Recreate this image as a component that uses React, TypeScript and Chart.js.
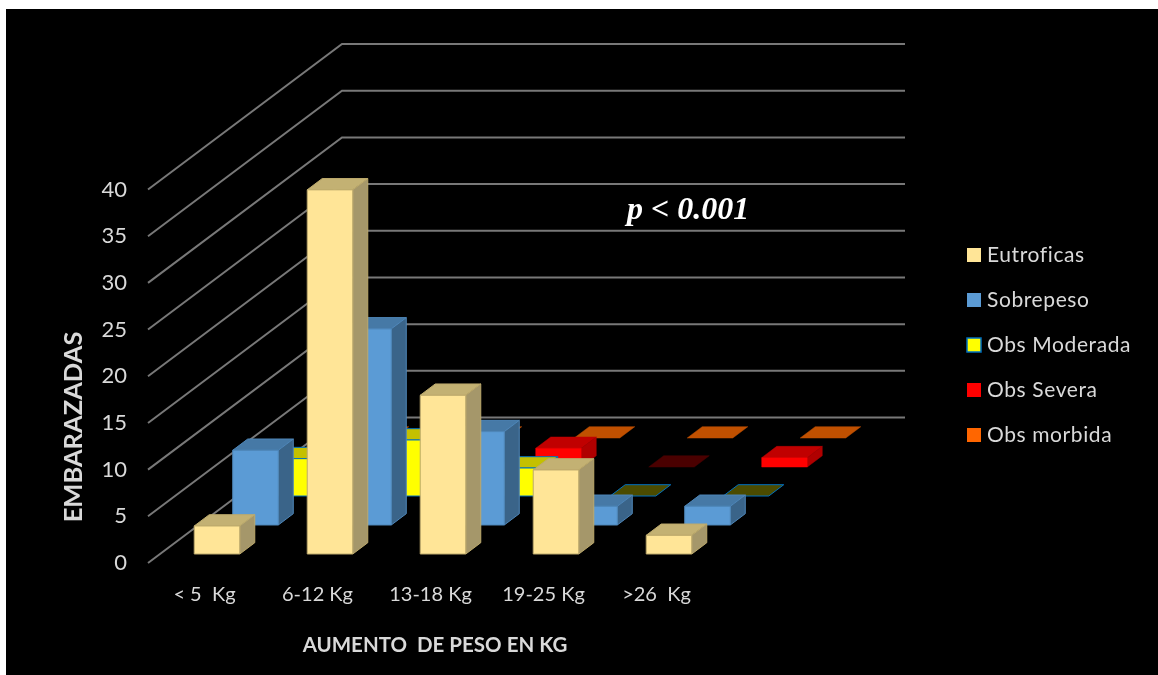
import { useEffect, useRef } from "react";
import { Chart, BarController, registerables } from "chart.js";

Chart.register(...registerables);

const categories = ["< 5  Kg", "6-12 Kg", "13-18 Kg", "19-25 Kg", ">26  Kg"];
const yMax = 40;
const yStep = 5;

const seriesNames = ["Eutroficas", "Sobrepeso", "Obs Moderada", "Obs Severa", "Obs morbida"];
const eutroficas = [3, 39, 17, 9, 2];
const sobrepeso = [8, 21, 10, 2, 2];
const obsModerada = [4, 6, 3, 0, 0];
const obsSevera = [0, 0, 2, 0, 1];
const obsMorbida = [0, 0, 0, 0, 0];

const frontColors = ["#FFE597", "#5B9BD5", "#FFFF00", "#FF0000", "#FF6600"];
const topColors = ["#C3B173", "#4679A6", "#C4C000", "#C00000", "#C05000"];
const sideColors = ["#A5976A", "#3A6489", "#A8A400", "#B00000", "#A04000"];
const flatColors = ["#C3B173", "#4679A6", "#4B4B00", "#4A0000", "#C05000"];
const edgeColors = ["#BDAA6C", "#4E86B8", "#0070C0", null, null];

// Projection of the depth axis onto the screen, in pixels.
const WALL_DX = 194;
const WALL_DY = 145.5;
const ROW_DX = 38.5;
const ROW_DY = 29;
const FIRST_ROW_DX = 12.5;
const FIRST_ROW_DY = 9;
const BOX_DX = 15;
const BOX_DY = 11.3;
const WALL_RIGHT = 905;
const TEXT = "#D9D9D9";
const FONT = "Lato, 'Open Sans', sans-serif";

function poly(ctx: CanvasRenderingContext2D, pts: number[][], fill: string, edge: string | null) {
  ctx.beginPath();
  pts.forEach(([x, y], i) => (i ? ctx.lineTo(x, y) : ctx.moveTo(x, y)));
  ctx.closePath();
  ctx.fillStyle = fill;
  ctx.fill();
  ctx.strokeStyle = edge ?? fill;
  ctx.lineWidth = edge ? 1 : 0.5;
  ctx.stroke();
}

// A bar controller that extrudes each bar into a box, pushed back by its series row.
class Box3DController extends BarController {
  static id = "box3d";
  static defaults = {};

  draw() {
    const ctx = this.chart.ctx;
    const row = this.index;
    const dx = FIRST_ROW_DX + ROW_DX * row;
    const dy = FIRST_ROW_DY + ROW_DY * row;
    const meta = this.getMeta();
    ctx.save();
    meta.data.forEach((el: any) => {
      const half = el.width / 2;
      const l = el.x - half + dx;
      const r = el.x + half + dx;
      const b = el.base - dy;
      const t = el.y - dy;
      const edge = edgeColors[row];
      if (b - t < 0.5) {
        poly(ctx, [[l, b], [r, b], [r + BOX_DX, b - BOX_DY], [l + BOX_DX, b - BOX_DY]], flatColors[row], edge);
        return;
      }
      poly(ctx, [[l, t], [r, t], [r + BOX_DX, t - BOX_DY], [l + BOX_DX, t - BOX_DY]], topColors[row], edge);
      poly(ctx, [[r, t], [r, b], [r + BOX_DX, b - BOX_DY], [r + BOX_DX, t - BOX_DY]], sideColors[row], edge);
      poly(ctx, [[l, t], [r, t], [r, b], [l, b]], frontColors[row], edge);
    });
    ctx.restore();
  }
}
Chart.register(Box3DController as any);

// Gridlines run back along the left wall, then across the rear wall.
const wallGrid = {
  id: "wallGrid",
  beforeDatasetsDraw(chart: any) {
    const { ctx } = chart;
    const y = chart.scales.y;
    ctx.save();
    ctx.strokeStyle = "#787878";
    ctx.lineWidth = 2;
    y.ticks.forEach((tick: any) => {
      const py = y.getPixelForValue(tick.value);
      ctx.beginPath();
      ctx.moveTo(y.right, py);
      ctx.lineTo(y.right + WALL_DX, py - WALL_DY);
      ctx.lineTo(WALL_RIGHT, py - WALL_DY);
      ctx.stroke();
    });
    ctx.restore();
  },
};

const annotations = {
  id: "annotations",
  afterDraw(chart: any) {
    const { ctx } = chart;
    ctx.save();
    ctx.textBaseline = "middle";

    // Legend column
    ctx.font = `21px ${FONT}`;
    ctx.letterSpacing = "0.6px";
    seriesNames.forEach((name, i) => {
      const y = 255 + 45 * i;
      ctx.fillStyle = frontColors[i];
      ctx.fillRect(967, y - 7, 14, 14);
      if (i === 2) {
        ctx.strokeStyle = edgeColors[2] as string;
        ctx.lineWidth = 1.5;
        ctx.strokeRect(967, y - 7, 14, 14);
      }
      ctx.fillStyle = TEXT;
      ctx.textAlign = "left";
      ctx.fillText(name, 987, y);
    });
    ctx.letterSpacing = "0px";

    // Axis titles
    ctx.fillStyle = TEXT;
    ctx.textAlign = "center";
    ctx.font = `bold 20.5px ${FONT}`;
    ctx.fillText("AUMENTO  DE PESO EN KG", 435, 645);
    ctx.save();
    ctx.translate(74, 427);
    ctx.rotate(-Math.PI / 2);
    ctx.font = `bold 25.5px ${FONT}`;
    ctx.fillText("EMBARAZADAS", 0, 0);
    ctx.restore();

    // Significance note
    ctx.fillStyle = "#FFFFFF";
    ctx.textAlign = "left";
    ctx.font = "italic bold 32px 'Liberation Serif', serif";
    ctx.fillText("p < 0.001", 627, 211);
    ctx.restore();
  },
};

export default function App() {
  const ref = useRef<HTMLCanvasElement>(null);

  useEffect(() => {
    document.body.style.margin = "0";
    const series = [eutroficas, sobrepeso, obsModerada, obsSevera, obsMorbida];
    const chart = new Chart(ref.current!, {
      type: "box3d" as any,
      data: {
        labels: categories,
        datasets: series.map((data, i) => ({
          label: seriesNames[i],
          data,
          backgroundColor: frontColors[i],
          grouped: false,
          categoryPercentage: 1,
          barPercentage: 0.403,
          clip: false,
        })),
      },
      options: {
        responsive: false,
        animation: false,
        events: [],
        layout: { padding: { top: 189.5, right: 445, bottom: 0, left: 0 } },
        plugins: { legend: { display: false }, tooltip: { enabled: false } },
        scales: {
          x: {
            type: "category",
            offset: true,
            grid: { display: false, drawTicks: false },
            border: { display: false },
            ticks: {
              color: TEXT,
              font: { family: FONT, size: 20 },
              padding: 20,
              maxRotation: 0,
              autoSkip: false,
            },
            afterFit: (s: any) => {
              s.height = 112;
            },
          },
          y: {
            type: "linear",
            min: 0,
            max: yMax,
            grid: { display: false, drawTicks: false },
            border: { display: false },
            ticks: {
              stepSize: yStep,
              color: TEXT,
              font: { family: FONT, size: 22 },
              padding: 21,
            },
            afterFit: (s: any) => {
              s.width = 148;
            },
          },
        },
      },
      plugins: [wallGrid, annotations],
    } as any);
    return () => chart.destroy();
  }, []);

  return (
    <div style={{ position: "relative", width: 1158, height: 675, background: "#FFFFFF", overflow: "hidden" }}>
      <div style={{ position: "absolute", left: 6, top: 9, right: 0, bottom: 0, background: "#000000" }} />
      <canvas ref={ref} width={1158} height={675} style={{ position: "absolute", left: 0, top: 0 }} />
    </div>
  );
}
